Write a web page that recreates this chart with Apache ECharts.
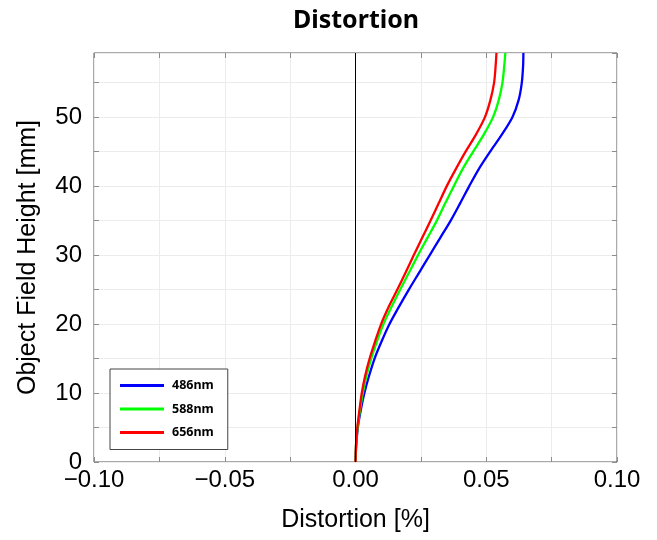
<!DOCTYPE html>
<html>
<head>
<meta charset="utf-8">
<script src="https://cdn.jsdelivr.net/npm/echarts@6/dist/echarts.min.js"></script>
<style>html,body{margin:0;padding:0;background:#fff;}#c{width:657px;height:540px;}</style>
</head>
<body>
<div id="c"></div>
<script>
const heights = [0, 2.5, 5, 7.5, 10, 12.5, 15, 17.5, 20, 22.5, 25, 27.5, 30, 32.5, 35, 37.5, 40, 42.5, 45, 47.5, 50, 52.5, 55, 57.5, 59.3];
const d486 = [0, 0.0003, 0.0009, 0.0020, 0.0034, 0.0052, 0.0073, 0.0100, 0.0130, 0.0166, 0.0204, 0.0244, 0.0284, 0.0324, 0.0364, 0.0400, 0.0435, 0.0472, 0.0515, 0.0560, 0.0600, 0.0624, 0.0636, 0.0641, 0.0642];
const d588 = [0, 0.0002, 0.0008, 0.0017, 0.0028, 0.0042, 0.0060, 0.0082, 0.0107, 0.0138, 0.0171, 0.0205, 0.0239, 0.0275, 0.0311, 0.0343, 0.0376, 0.0410, 0.0450, 0.0491, 0.0526, 0.0548, 0.0562, 0.0569, 0.0573];
const d656 = [0, 0.0002, 0.0007, 0.0015, 0.0024, 0.0037, 0.0054, 0.0075, 0.0098, 0.0127, 0.0160, 0.0192, 0.0223, 0.0255, 0.0287, 0.0318, 0.0349, 0.0384, 0.0421, 0.0461, 0.0495, 0.0516, 0.0530, 0.0536, 0.0539];
const seriesNames = ['486nm', '588nm', '656nm'];
const seriesColors = ['#0000ff', '#00ff00', '#ff0000'];
const xLabelValues = [-0.10, -0.05, 0.00, 0.05, 0.10];
const yLabelValues = [0, 10, 20, 30, 40, 50];

const chart = echarts.init(document.getElementById('c'));
const font = 'Liberation Sans';

function xFmt(v) {
  const ok = xLabelValues.some(t => Math.abs(t - v) < 1e-9);
  if (!ok) return '';
  const s = Math.abs(v).toFixed(2);
  return (v < -1e-9 ? '\u2212' : '') + s;
}
function yFmt(v) {
  return yLabelValues.some(t => Math.abs(t - v) < 1e-9) ? String(v) : '';
}

const tickStyle = { show: true, inside: true, length: 5, lineStyle: { color: '#8c8c8c', width: 1 } };
const gridLine = { show: true, lineStyle: { color: '#ececec', width: 1 } };

const allData = [d486, d588, d656];
const series = [{
  type: 'line', name: '_zero', data: [], silent: true,
  markLine: { silent: true, symbol: 'none', label: { show: false },
    lineStyle: { color: '#000', width: 1, type: 'solid' },
    data: [{ xAxis: 0 }] }
}];
allData.forEach((arr, i) => {
  series.push({
    type: 'line', name: seriesNames[i], smooth: 0.3, symbol: 'none',
    lineStyle: { color: seriesColors[i], width: 2.3 },
    itemStyle: { color: seriesColors[i] },
    data: arr.map((x, k) => [x, heights[k]])
  });
});

chart.setOption({
  animation: false,
  title: { text: 'Distortion', left: 351, textAlign: 'center', top: 3,
    textStyle: { fontFamily: 'Noto Sans', fontWeight: 'bold', fontSize: 25, color: '#000' } },
  grid: { left: 94, right: 40, top: 53, bottom: 78, show: true, borderColor: '#555', borderWidth: 1, backgroundColor: 'transparent' },
  legend: {
    data: seriesNames, orient: 'vertical', left: 110, top: 369,
    icon: 'rect', itemWidth: 44, itemHeight: 3, itemGap: 9.5,
    padding: [9.5, 14, 10, 10],
    backgroundColor: '#fff', borderColor: '#444', borderWidth: 1, borderRadius: 0,
    textStyle: { fontFamily: 'Noto Sans', fontWeight: 'bold', fontSize: 12.5, color: '#000', lineHeight: 14, padding: [0, 0, 0, 3] },
    selectedMode: false
  },
  xAxis: [{
    type: 'value', min: -0.1, max: 0.1, interval: 0.025, position: 'bottom',
    axisLine: { show: false, onZero: false },
    axisTick: tickStyle, splitLine: gridLine,
    axisLabel: { formatter: xFmt, fontFamily: font, fontSize: 24, color: '#000', margin: 6 },
    name: 'Distortion [%]', nameLocation: 'middle', nameGap: 46,
    nameTextStyle: { fontFamily: font, fontSize: 25, color: '#000' }
  }, {
    type: 'value', min: -0.1, max: 0.1, interval: 0.025, position: 'top',
    axisLine: { show: false, onZero: false }, axisTick: tickStyle,
    splitLine: { show: false }, axisLabel: { show: false }
  }],
  yAxis: [{
    type: 'value', min: 0, max: 59.3, interval: 5, position: 'left',
    axisLine: { show: false, onZero: false },
    axisTick: tickStyle, splitLine: gridLine,
    axisLabel: { formatter: yFmt, fontFamily: font, fontSize: 24, color: '#000', margin: 12, showMaxLabel: false },
    name: 'Object Field Height [mm]', nameLocation: 'middle', nameGap: 53,
    nameTextStyle: { fontFamily: font, fontSize: 25, color: '#000' }
  }, {
    type: 'value', min: 0, max: 59.3, interval: 5, position: 'right',
    axisLine: { show: false, onZero: false }, axisTick: tickStyle,
    splitLine: { show: false }, axisLabel: { show: false }
  }],
  series: series
});
</script>
</body>
</html>
